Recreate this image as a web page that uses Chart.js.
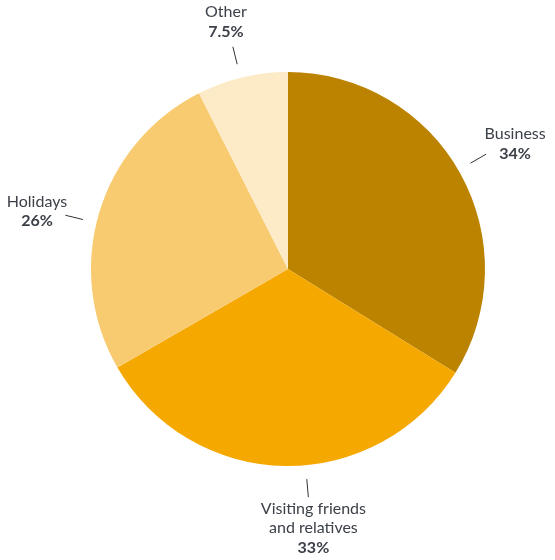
<!DOCTYPE html>
<html>
<head>
<meta charset="utf-8">
<script src="https://cdn.jsdelivr.net/npm/chart.js@4"></script>
<style>
html,body{margin:0;padding:0;background:#fff;}
#wrap{width:555px;height:560px;position:relative;}
</style>
</head>
<body>
<div id="wrap"><canvas id="c" width="555" height="560"></canvas></div>
<script>
const categories = ["Business", "Visiting friends and relatives", "Holidays", "Other"];
const labelLines = [["Business"], ["Visiting friends", "and relatives"], ["Holidays"], ["Other"]];
const shares = [34, 33, 26, 7.5];
const shareLabels = ["34%", "33%", "26%", "7.5%"];
const colors = ["#BB8300", "#F5A800", "#F9CB70", "#FDEBC8"];
// label placement tweaks
const angleTweak = [-1, -6, -3, -0.5];
const labelGap = [35, 36, 31, 40];

const TEXT = "#3c4048";
const FONT = "Lato, 'Open Sans', sans-serif";

const outsideLabels = {
  id: "outsideLabels",
  afterDatasetsDraw(chart) {
    const ctx = chart.ctx;
    const meta = chart.getDatasetMeta(0);
    meta.data.forEach((arc, i) => {
      const p = arc.getProps(["x", "y", "startAngle", "endAngle", "outerRadius"], true);
      const mid = (p.startAngle + p.endAngle) / 2 + angleTweak[i] * Math.PI / 180;
      const r = p.outerRadius;
      const cx = Math.cos(mid), cy = Math.sin(mid);
      ctx.save();
      ctx.strokeStyle = "#333";
      ctx.lineWidth = 1;
      ctx.beginPath();
      ctx.moveTo(p.x + cx * (r + 14), p.y + cy * (r + 14));
      ctx.lineTo(p.x + cx * (r + 32), p.y + cy * (r + 32));
      ctx.stroke();
      const lines = labelLines[i].concat([shareLabels[i]]);
      const lh = 19.5;
      let w = 0;
      lines.forEach((t, k) => {
        ctx.font = (k === lines.length - 1 ? "bold " : "") + "16px " + FONT;
        w = Math.max(w, ctx.measureText(t).width);
      });
      const h = lines.length * lh - 4;
      const ax = p.x + cx * (r + labelGap[i]);
      const ay = p.y + cy * (r + labelGap[i]);
      const tx = ax + cx * w / 2;
      const ty = ay + cy * h / 2;
      const top = ty - (lines.length - 1) * lh / 2;
      ctx.fillStyle = TEXT;
      ctx.textAlign = "center";
      ctx.textBaseline = "middle";
      lines.forEach((t, k) => {
        const bold = k === lines.length - 1;
        ctx.font = (bold ? "bold " : "") + "16px " + FONT;
        ctx.fillText(t, tx, top + k * lh);
      });
      ctx.restore();
    });
  }
};

new Chart(document.getElementById("c"), {
  type: "pie",
  data: {
    labels: categories,
    datasets: [{
      data: shares,
      backgroundColor: colors,
      borderWidth: 0,
      hoverOffset: 0
    }]
  },
  options: {
    responsive: false,
    animation: false,
    layout: { padding: { top: 72, bottom: 94, left: 91, right: 70 } },
    plugins: { legend: { display: false }, tooltip: { enabled: false } }
  },
  plugins: [outsideLabels]
});
</script>
</body>
</html>
